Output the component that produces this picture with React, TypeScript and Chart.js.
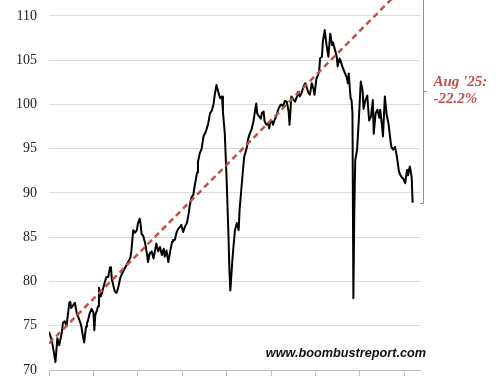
import React, { useEffect, useRef } from 'react';
import { Chart, registerables } from 'chart.js';

Chart.register(...registerables);

// months since Jan 1993
const monthIndex = [
  0, 3, 7, 9, 11, 14, 15, 17, 19, 22, 23, 24, 26, 28, 30, 32, 34, 35, 37, 38,
  40, 41, 42, 44, 46, 48, 49, 50, 52, 53, 54, 56, 57, 59, 60, 62, 64, 66, 67, 68,
  69, 71, 73, 75, 77, 79, 81, 84, 86, 88, 89, 91, 93, 95, 96, 98, 99, 100, 102, 104,
  106, 107, 109, 111, 113, 115, 116, 118, 120, 122, 124, 125, 127, 129, 131, 133, 134, 136, 138, 140,
  142, 143, 145, 147, 149, 151, 152, 154, 156, 157, 160, 161, 163, 165, 167, 169, 170, 172, 174, 176,
  178, 179, 181, 183, 185, 187, 188, 190, 192, 194, 195, 196, 198, 199, 201, 203, 205, 206, 209, 211,
  214, 215, 217, 219, 221, 223, 224, 225, 226, 229, 230, 232, 233, 235, 237, 238, 239, 241, 242, 244,
  246, 248, 250, 251, 253, 255, 257, 259, 260, 262, 264, 266, 268, 269, 271, 273, 275, 277, 279, 280,
  282, 284, 286, 287, 289, 291, 292, 293, 295, 296, 298, 300, 302, 304, 306, 307, 309, 311, 312, 314,
  315, 317, 320, 322, 323, 324, 325, 326, 327, 328, 329, 330, 331, 333, 335, 337, 339, 340, 342, 344,
  346, 348, 350, 351, 353, 355, 357, 358, 360, 361, 363, 365, 367, 369, 370, 372, 374, 376, 378, 379,
  381, 383, 385, 387, 388, 390, 392, 393,
];

const indexValues = [
  74.3, 73.4, 70.9, 73.6, 72.8, 74.3, 75.3, 75.5, 75.0, 77.6, 77.7, 77.0, 77.3, 77.6, 76.4, 75.9, 75.3, 74.9, 73.6, 73.1,
  74.9, 75.3, 75.5, 76.4, 76.9, 76.5, 74.5, 76.2, 76.8, 77.2, 79.3, 78.3, 78.6, 79.4, 79.8, 80.5, 80.5, 81.6, 81.5, 80.2,
  79.8, 78.9, 78.7, 79.4, 80.4, 80.9, 81.3, 81.9, 82.3, 82.7, 83.4, 85.8, 85.5, 85.8, 86.5, 87.1, 86.5, 85.4, 85.1, 84.3,
  83.0, 82.2, 83.2, 83.4, 82.6, 83.7, 84.3, 83.4, 83.9, 83.0, 83.7, 82.8, 83.5, 82.2, 83.4, 84.5, 84.7, 84.7, 85.6, 86.0,
  86.2, 86.4, 85.6, 86.2, 86.6, 87.7, 88.5, 89.5, 89.8, 90.5, 92.3, 93.5, 94.5, 95.0, 96.4, 96.8, 97.1, 97.8, 99.0, 99.3,
  100.1, 101.0, 102.2, 101.4, 100.7, 100.9, 99.2, 96.7, 91.5, 85.1, 81.3, 79.0, 82.1, 83.5, 85.8, 86.6, 85.8, 88.1, 91.8, 94.1,
  95.2, 96.0, 96.7, 97.2, 98.1, 99.5, 100.1, 99.0, 98.8, 98.4, 99.0, 99.2, 98.1, 97.7, 97.9, 97.3, 98.0, 98.1, 97.7, 98.3,
  98.8, 99.5, 99.9, 100.0, 99.8, 100.4, 100.3, 99.2, 97.7, 100.9, 100.6, 100.3, 100.9, 101.4, 100.9, 101.3, 102.0, 102.4, 101.8, 101.4,
  101.1, 102.4, 101.7, 101.1, 102.9, 103.4, 103.7, 105.2, 105.4, 107.1, 108.4, 106.7, 105.4, 108.0, 106.7, 107.0, 106.2, 105.4, 104.3, 105.2,
  105.0, 104.3, 103.5, 103.0, 102.4, 103.5, 102.0, 100.7, 100.5, 99.0, 78.1, 88.0, 93.7, 94.9, 98.5, 102.6, 101.5, 99.5, 100.5, 101.0,
  98.2, 98.6, 100.5, 96.7, 99.0, 99.4, 98.5, 99.4, 97.5, 96.4, 100.9, 98.8, 97.8, 96.0, 95.2, 94.9, 95.2, 94.1, 92.6, 92.2,
  91.8, 91.6, 91.1, 92.6, 92.0, 93.0, 91.8, 88.9,
];

const trendMonths = [0, 393];
const trendValues = [73.0, 114.3];

const yTickValues = [70, 75, 80, 85, 90, 95, 100, 105, 110];
const xTickMonths = [0, 48, 96, 144, 192, 240, 288, 336, 384];
const yMin = 70;
const yMax = 111.8;
const xMin = 0;
const xMax = 401;

const annotationLines = ["Aug '25:", '-22.2%'];
const watermarkText = 'www.boombustreport.com';

export default function App() {
  const canvasRef = useRef<HTMLCanvasElement | null>(null);

  useEffect(() => {
    const canvas = canvasRef.current;
    if (!canvas) return;

    const overlay = {
      id: 'overlay',
      afterDraw(chart: any) {
        const { ctx, chartArea } = chart;
        const xs = chart.scales.x;
        const ys = chart.scales.y;
        const last = monthIndex.length - 1;
        const bx = Math.round(xs.getPixelForValue(monthIndex[last]) + 10) + 0.5;
        const top = ys.getPixelForValue(trendValues[1]);
        const bottom = Math.round(ys.getPixelForValue(indexValues[last])) + 0.5;
        const mid = Math.round((top + bottom) / 2) + 0.5;
        ctx.save();
        ctx.strokeStyle = '#7297c6';
        ctx.lineWidth = 1;
        ctx.beginPath();
        ctx.moveTo(bx - 3.5, bottom);
        ctx.lineTo(bx, bottom);
        ctx.lineTo(bx, top);
        ctx.stroke();
        ctx.beginPath();
        ctx.moveTo(bx, mid);
        ctx.lineTo(bx + 3.5, mid);
        ctx.stroke();

        ctx.fillStyle = '#c0504d';
        ctx.font = 'italic bold 15px "Liberation Serif", "Times New Roman", serif';
        ctx.textAlign = 'left';
        ctx.textBaseline = 'alphabetic';
        ctx.fillText(annotationLines[0], bx + 10, mid - 5.5);
        ctx.fillText(annotationLines[1], bx + 10, mid + 11);

        ctx.fillStyle = '#111111';
        ctx.font = 'italic bold 12.7px "Liberation Sans", Arial, sans-serif';
        ctx.textAlign = 'right';
        ctx.fillText(watermarkText, chartArea.right + 6, chartArea.bottom - 13);
        ctx.restore();
      },
    };

    const chart = new Chart(canvas, {
      type: 'line',
      data: {
        datasets: [
          {
            label: 'Index',
            data: monthIndex.map((m, i) => ({ x: m, y: indexValues[i] })),
            borderColor: '#000000',
            borderWidth: 2,
            pointRadius: 0,
            tension: 0,
            borderJoinStyle: 'round',
            order: 1,
          },
          {
            label: 'Trend',
            data: trendMonths.map((m, i) => ({ x: m, y: trendValues[i] })),
            borderColor: '#c0504d',
            borderWidth: 2.5,
            borderDash: [6, 4],
            pointRadius: 0,
            tension: 0,
            order: 0,
          },
        ],
      },
      options: {
        animation: false,
        responsive: false,
        devicePixelRatio: 1,
        layout: { padding: { left: 0, right: 80, top: 0, bottom: 0 } },
        plugins: {
          legend: { display: false },
          title: { display: false },
          tooltip: { enabled: false },
        },
        scales: {
          x: {
            type: 'linear',
            min: xMin,
            max: xMax,
            afterBuildTicks: (scale: any) => {
              scale.ticks = xTickMonths.map((v) => ({ value: v }));
            },
            afterFit: (scale: any) => {
              scale.height = 6;
              scale.paddingLeft = 0;
              scale.paddingRight = 0;
            },
            ticks: { display: false },
            grid: {
              drawOnChartArea: false,
              drawTicks: true,
              tickLength: 6,
              color: '#bfbfbf',
              lineWidth: 1,
            },
            border: { display: true, color: '#bfbfbf', width: 1 },
          },
          y: {
            type: 'linear',
            min: yMin,
            max: yMax,
            afterBuildTicks: (scale: any) => {
              scale.ticks = yTickValues.map((v) => ({ value: v }));
            },
            afterFit: (scale: any) => {
              scale.width = 49;
              scale.paddingTop = 0;
              scale.paddingBottom = 0;
            },
            ticks: {
              padding: 12,
              color: '#222222',
              font: { family: '"Liberation Serif", "Times New Roman", serif', size: 14 },
            },
            grid: {
              drawTicks: false,
              color: '#dadada',
              lineWidth: 1,
            },
            border: { display: false },
          },
        },
      },
      plugins: [overlay],
    } as any);

    return () => {
      chart.destroy();
    };
  }, []);

  return (
    <div style={{ position: 'fixed', left: 0, top: 0, width: 500, height: 376, background: '#ffffff' }}>
      <canvas ref={canvasRef} width={500} height={376} />
    </div>
  );
}
